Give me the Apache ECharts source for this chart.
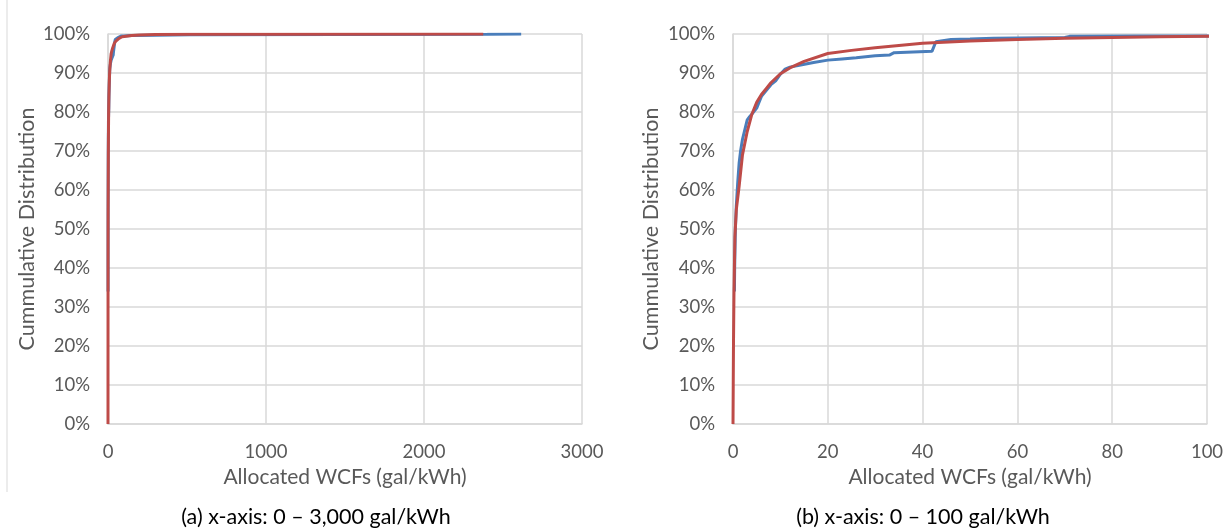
<!DOCTYPE html>
<html>
<head>
<meta charset="utf-8">
<script src="https://cdn.jsdelivr.net/npm/echarts@6/dist/echarts.min.js"></script>
<style>
  html, body { margin: 0; padding: 0; background: #fff; }
  #chart { width: 1229px; height: 531px; }
</style>
</head>
<body>
<div id="chart"></div>
<script>
// fitted distribution (red)
const fitWcf = [0, 0.05, 0.1, 0.2, 0.4, 0.7, 1, 1.3, 2, 3, 4, 5, 6, 7, 8, 10, 12, 15, 20, 25, 30, 40, 50, 60, 70, 80, 90, 100, 150, 200, 300, 500, 1000, 2375];
const fitCdf = [0, 10, 20, 33, 48, 55, 58, 61, 69, 75, 79.5, 82.5, 84.5, 86, 87.5, 89.8, 91.3, 93, 95, 95.8, 96.5, 97.6, 98.2, 98.6, 98.9, 99.1, 99.3, 99.4, 99.6, 99.75, 99.85, 99.92, 99.96, 100];

// allocated WCF sample (blue)
const obsWcf = [0.3, 0.35, 0.5, 0.7, 1, 1.3, 1.6, 2, 2.5, 3, 3.5, 4, 5, 5.5, 6, 7, 8, 9, 10, 11, 12, 14, 17, 20, 23, 26, 30, 33, 34, 38, 42, 42.8, 46, 50, 55, 60, 70, 71, 85, 100, 150, 300, 520, 2400, 2615];
const obsCdf = [34, 40, 50, 56, 62, 67, 70, 73, 75.5, 78, 78.8, 79.5, 81, 82.5, 84, 85.5, 87, 88, 89.7, 91, 91.5, 92, 92.7, 93.3, 93.6, 93.9, 94.4, 94.6, 95.2, 95.4, 95.6, 98, 98.6, 98.7, 98.9, 99, 99.1, 99.4, 99.5, 99.5, 99.6, 99.7, 99.8, 99.95, 100];

const xMaxA = 3000, xStepA = 1000;
const xMaxB = 100, xStepB = 20;
const xTitle = 'Allocated WCFs (gal/kWh)';
const yTitle = 'Cummulative Distribution';
const captions = ['(a) x-axis: 0 \u2013 3,000 gal/kWh', '(b) x-axis: 0 \u2013 100 gal/kWh'];

const FONT = 'Lato';
const GREY = '#595959';
const GRID = '#D9D9D9';
const BLUE = '#4A7EBB';
const RED = '#BE4B48';

const pairs = (xs, ys) => xs.map((x, i) => [x, ys[i]]);

function xAxisFor(idx, max, step) {
  return {
    gridIndex: idx, type: 'value', min: 0, max: max, interval: step,
    name: xTitle, nameLocation: 'middle', nameGap: 42,
    nameTextStyle: { color: GREY, fontFamily: FONT, fontSize: 21 },
    axisLine: { show: true, lineStyle: { color: GRID, width: 1.5 } },
    axisTick: { show: false },
    axisLabel: { color: GREY, fontFamily: FONT, fontSize: 18.5, margin: 19, formatter: v => String(v) },
    splitLine: { show: true, lineStyle: { color: GRID, width: 1.5 } }
  };
}

function yAxisFor(idx, gap) {
  return {
    gridIndex: idx, type: 'value', min: 0, max: 100, interval: 10,
    name: yTitle, nameLocation: 'middle', nameGap: gap,
    nameTextStyle: { color: GREY, fontFamily: FONT, fontSize: 21.5 },
    axisLine: { show: true, lineStyle: { color: GRID, width: 1.5 } },
    axisTick: { show: false },
    axisLabel: { color: GREY, fontFamily: FONT, fontSize: 18.5, margin: 18, formatter: '{value}%' },
    splitLine: { show: true, lineStyle: { color: GRID, width: 1.5 } }
  };
}

function lineSeries(idx, data, color) {
  return {
    type: 'line', xAxisIndex: idx, yAxisIndex: idx, data: data,
    showSymbol: false, clip: true, animation: false,
    lineStyle: { color: color, width: 3 }
  };
}

const chart = echarts.init(document.getElementById('chart'));
chart.setOption({
  backgroundColor: '#fff',
  textStyle: { fontFamily: FONT },
  title: [
    { text: captions[0], left: 311, top: 501, textAlign: 'center',
      textStyle: { color: '#000', fontFamily: FONT, fontSize: 21.5, fontWeight: 'normal' } },
    { text: captions[1], left: 918, top: 501, textAlign: 'center',
      textStyle: { color: '#000', fontFamily: FONT, fontSize: 21.5, fontWeight: 'normal' } }
  ],
  grid: [
    { left: 108, right: 647, top: 34, bottom: 107 },
    { left: 733, right: 22, top: 34, bottom: 107 }
  ],
  xAxis: [xAxisFor(0, xMaxA, xStepA), xAxisFor(1, xMaxB, xStepB)],
  yAxis: [yAxisFor(0, 70), yAxisFor(1, 71)],
  graphic: [
    { type: 'line', shape: { x1: 7, y1: 0, x2: 7, y2: 492 },
      style: { stroke: GRID, lineWidth: 1 } }
  ],
  series: [
    lineSeries(0, pairs(obsWcf, obsCdf), BLUE),
    lineSeries(0, pairs(fitWcf, fitCdf), RED),
    lineSeries(1, pairs(obsWcf, obsCdf), BLUE),
    lineSeries(1, pairs(fitWcf, fitCdf), RED)
  ]
});
window.addEventListener('resize', () => chart.resize());
</script>
</body>
</html>
